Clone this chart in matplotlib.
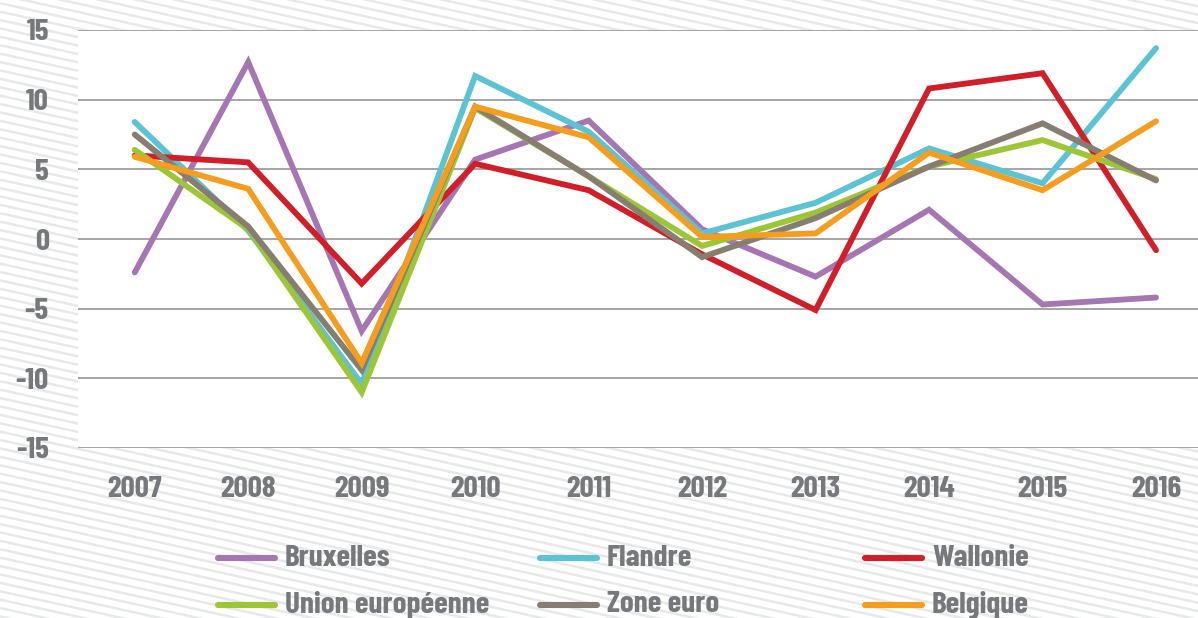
import numpy as np
import matplotlib
matplotlib.use('Agg')
import matplotlib.pyplot as plt

years = [2007, 2008, 2009, 2010, 2011, 2012, 2013, 2014, 2015, 2016]

bruxelles = [-2.4, 12.7, -6.6, 5.7, 8.5, 0.7, -2.7, 2.1, -4.7, -4.2]
flandre = [8.4, 0.6, -10.4, 11.7, 7.7, 0.4, 2.6, 6.5, 4.0, 13.7]
wallonie = [6.0, 5.5, -3.2, 5.4, 3.5, -1.1, -5.1, 10.8, 11.9, -0.8]
union_eu = [6.4, 0.7, -11.0, 9.4, 4.5, -0.5, 1.9, 5.2, 7.1, 4.3]
zone_euro = [7.5, 0.9, -9.4, 9.5, 4.5, -1.3, 1.5, 5.2, 8.3, 4.2]
belgique = [5.9, 3.6, -8.9, 9.5, 7.3, 0.15, 0.4, 6.2, 3.5, 8.45]

names = ['Bruxelles', 'Flandre', 'Wallonie', 'Union européenne', 'Zone euro', 'Belgique']
series = [bruxelles, flandre, wallonie, union_eu, zone_euro, belgique]
colors = ['#a676b2', '#5bc3d4', '#d01f28', '#9cc637', '#877d70', '#f49d1e']
yticks = [-15, -10, -5, 0, 5, 10, 15]

txt_color = '#77787b'
font = ['Barlow Condensed', 'DejaVu Sans']
plt.rcParams['axes.unicode_minus'] = False

fig = plt.figure(figsize=(11.98, 6.18), dpi=100)

# striped background
bg = fig.add_axes([0, 0, 1, 1], zorder=0)
bg.set_xlim(0, 1198)
bg.set_ylim(618, 0)
bg.axis('off')
for c in np.arange(-400, 900, 8.4):
    bg.plot([0, 1198], [c, c + 1198 * 0.22], color='#e7e8e8', lw=1.8, solid_capstyle='butt')

ax = fig.add_axes([78 / 1198, 1 - 448 / 618, 1 - 78 / 1198, (448 - 30) / 618], zorder=1)
ax.set_facecolor('white')
for s, c in zip(series, colors):
    ax.plot(years, s, color=c, lw=4.2, solid_joinstyle='miter', solid_capstyle='round', zorder=3)

ax.set_xlim(2006.5, 2016.37)
ax.set_ylim(-15, 15)
ax.set_yticks(yticks)
ax.set_xticks(years)
ax.yaxis.grid(True, color='#9d9d9d', lw=1.3)
ax.set_axisbelow(True)
for sp in ax.spines.values():
    sp.set_visible(False)
ax.tick_params(length=0)
ax.tick_params(axis='y', pad=21)
ax.tick_params(axis='x', pad=20)
for lab in ax.get_xticklabels() + ax.get_yticklabels():
    lab.set_fontfamily(font)
    lab.set_fontweight('bold')
    lab.set_fontsize(22.5)
    lab.set_color(txt_color)

# legend, drawn by hand in pixel coordinates
col_x = [218, 540, 865]
row_y = [558, 605]
for i, (n, c) in enumerate(zip(names, colors)):
    x0 = col_x[i % 3]
    y0 = row_y[i // 3]
    bg.plot([x0, x0 + 57], [y0, y0], color=c, lw=4.4, solid_capstyle='round')
    bg.text(x0 + 67, y0, n, fontsize=22.5, fontweight='bold', color=txt_color,
            family=font, va='center', ha='left')

fig.savefig('out.png', dpi=100)
